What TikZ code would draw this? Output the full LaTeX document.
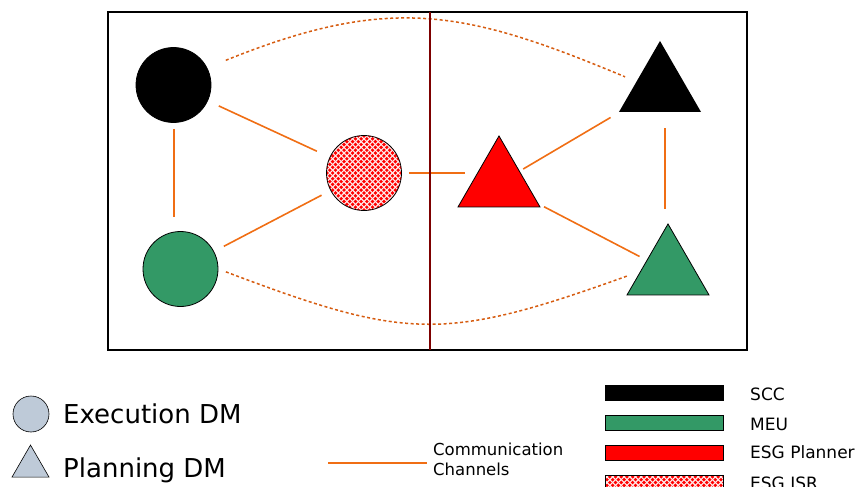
\documentclass[tikz,border=0pt]{standalone}
\usepackage{fontspec}
\setmainfont{DejaVu Sans}
\usetikzlibrary{shapes.geometric,calc}
\definecolor{meugreen}{RGB}{51,153,102}
\definecolor{chanorange}{RGB}{240,110,20}
\definecolor{dashorange}{RGB}{214,92,16}
\definecolor{wallred}{RGB}{125,0,0}
\definecolor{keygray}{RGB}{190,202,216}
\definecolor{meshwhite}{RGB}{255,235,235}
\begin{document}
\begin{tikzpicture}[x=1pt,y=-1pt,
      execdm/.style={circle,minimum size=75pt,inner sep=0pt,draw=black,line width=0.8pt},
      plandm/.style={regular polygon,regular polygon sides=3,minimum size=94.7pt,inner sep=0pt,draw=black,line width=0.8pt},
      isrfill/.style={fill=red,path picture={
        \foreach \k in {-36,...,36} {
          \draw[meshwhite,line width=1.1pt] ($(path picture bounding box.center)+(\k*5.7-90,-90)$) -- ++(180,180);
          \draw[meshwhite,line width=1.1pt] ($(path picture bounding box.center)+(\k*5.7-90,90)$) -- ++(180,-180);
        }}},
      channel/.style={draw=chanorange,line width=1.6pt,shorten <=10pt,shorten >=10pt},
      farchannel/.style={draw=dashorange,line width=1.5pt,dash pattern=on 3pt off 2.5pt},
      keybar/.style={rectangle,draw=black,line width=0.6pt,minimum width=118pt,minimum height=15pt,inner sep=0pt},
      keytext/.style={anchor=base west,inner sep=0pt,font=\fontsize{17}{20}\selectfont}]
      \useasboundingbox (0,0) rectangle (860,487);
      \node[execdm,fill=black] (sccE) at (173.5,85) {};
      \node[execdm,fill=meugreen] (meuE) at (180.5,269) {};
      \node[execdm,isrfill] (isrE) at (364,173) {};
      \node[plandm,fill=red] (esgP) at (499,183.3) {};
      \node[plandm,fill=black,draw=none] (sccP) at (660,88.3) {};
      \node[plandm,fill=meugreen] (meuP) at (668,271.3) {};
      \draw[channel,shorten <=6pt,shorten >=14pt] ($(sccE.south)+(0.5,0)$) -- ($(sccE.south |- meuE.north)+(0.5,0)$);
      \draw[channel,shorten <=12pt,shorten >=14pt] (sccE) -- (isrE);
      \draw[channel,shorten <=11pt,shorten >=10pt] (meuE) -- (isrE);
      \draw[channel,shorten <=7pt,shorten >=6pt] (isrE.east) -- (isrE.east -| esgP.west);
      \draw[channel,shorten <=4pt,shorten >=10pt] (esgP) -- (sccP);
      \draw[channel,shorten <=6pt,shorten >=8pt] (esgP) -- (meuP);
      \draw[channel,shorten <=16pt,shorten >=14pt] ($(sccP.south)+(5,0)$) -- ($(sccP.south |- meuP.north)+(5,0)$);
      \draw[farchannel,shorten <=20pt,shorten >=12pt] (sccE.27) .. controls (390,-6) and (465,10) .. (sccP.164);
      \draw[farchannel,shorten <=8pt,shorten >=14pt] (meuE.east) .. controls (406,340) and (444,342) .. (meuP.180);
      \draw[line width=1.6pt] (108,12) rectangle (747,350);
      \draw[wallred,line width=2.6pt] (430,12) -- (430,350);
      \node[execdm,minimum size=36pt,fill=keygray,line width=0.6pt] (keyE) at (31,414) {};
      \node[anchor=base west,inner sep=0pt,font=\fontsize{26}{30}\selectfont] (keyEtext) at (63,423) {Execution DM};
      \node[plandm,minimum size=42.7pt,fill=keygray,line width=0.6pt] (keyP) at (30.5,466.4) {};
      \node[anchor=base west,inner sep=0pt,font=\fontsize{26}{30}\selectfont] (keyPtext) at (63,477) {Planning DM};
      \coordinate (chanL) at (328,463);
      \coordinate (chanR) at (427,463);
      \draw[draw=chanorange,line width=1.6pt] (chanL) -- (chanR);
      \node[anchor=north west,align=left,inner sep=0pt,font=\fontsize{16.5}{20}\selectfont] (chantext) at (433,442.5) {Communication\\Channels};
      \node[keybar,fill=black] (sccbar) at (664,393) {};
      \node[keybar,fill=meugreen] (meubar) at (664,423) {};
      \node[keybar,fill=red] (esgbar) at (664,452.5) {};
      \node[keybar,isrfill] (isrbar) at (664,482.5) {};
      \node[keytext] (scctext) at (750,400) {SCC};
      \node[keytext] (meutext) at (750,430) {MEU};
      \node[keytext] (esgtext) at (750,458.5) {ESG Planner};
      \node[keytext] (isrtext) at (750,489) {ESG ISR};
\end{tikzpicture}
\end{document}
